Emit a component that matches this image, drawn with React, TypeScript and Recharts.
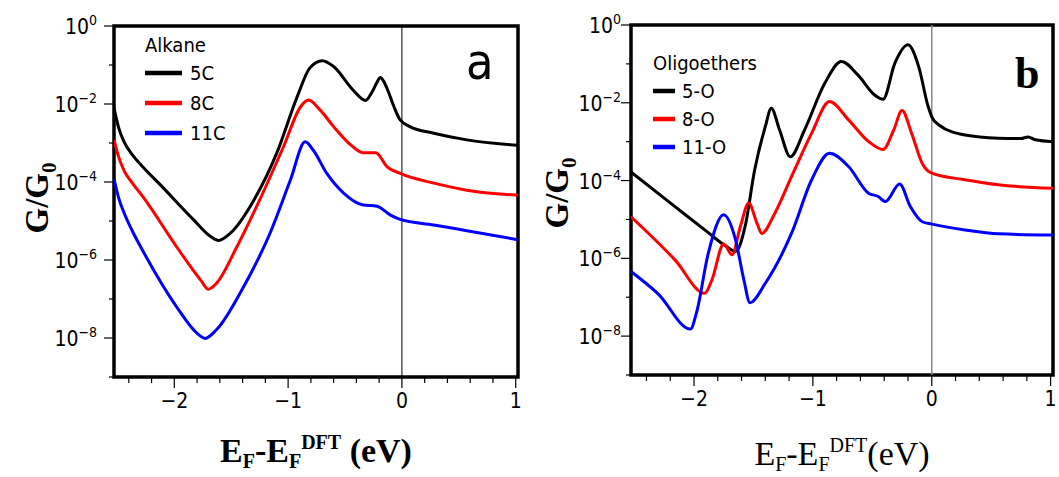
import React from "react";
import { LineChart, Line, XAxis, YAxis, ReferenceArea, ReferenceLine } from "recharts";

const SANS = '"DejaVu Sans Condensed", "DejaVu Sans", Verdana, sans-serif';
const SERIF = '"Liberation Serif", "Times New Roman", serif';

// axis ticks: labelled at integers / even decades, minor ones in between
const xTicks = [-2.4, -2.2, -2, -1.8, -1.6, -1.4, -1.2, -1, -0.8, -0.6, -0.4, -0.2, 0, 0.2, 0.4, 0.6, 0.8, 1];
const xMajor = [-2, -1, 0, 1];
const yTicks = [1, 1e-1, 1e-2, 1e-3, 1e-4, 1e-5, 1e-6, 1e-7, 1e-8, 1e-9];

// panel a – alkanes (x in eV, log10 G/G0)
const alk5X = [-2.53, -2.49, -2.44, -2.37, -2.28, -2.12, -1.83, -1.68, -1.61, -1.51, -1.3, -1.1, -0.92, -0.81, -0.7, -0.6, -0.43, -0.32, -0.26, -0.22, -0.19, -0.16, -0.12, -0.07, -0.015, 0.07, 0.28, 0.57, 1.02];
const alk5Log = [-2.1, -2.6, -2.98, -3.3, -3.6, -4.08, -4.97, -5.4, -5.5, -5.32, -4.46, -3.26, -1.81, -1.08, -0.89, -1.04, -1.64, -1.91, -1.68, -1.45, -1.32, -1.42, -1.68, -2.07, -2.41, -2.58, -2.75, -2.92, -3.06];
const alk8X = [-2.53, -2.49, -2.44, -2.37, -2.27, -1.98, -1.77, -1.7, -1.63, -1.45, -1.25, -1.04, -0.89, -0.82, -0.72, -0.6, -0.45, -0.34, -0.23, -0.13, -0.015, 0.28, 0.57, 1.02];
const alk8Log = [-2.92, -3.35, -3.72, -4.02, -4.4, -5.66, -6.51, -6.75, -6.6, -5.66, -4.46, -3.09, -2.07, -1.9, -2.15, -2.58, -3.05, -3.25, -3.25, -3.61, -3.78, -4.03, -4.21, -4.34];
const alk11X = [-2.53, -2.49, -2.44, -2.37, -2.27, -1.98, -1.8, -1.73, -1.63, -1.39, -1.16, -0.98, -0.85, -0.78, -0.66, -0.51, -0.34, -0.22, -0.1, -0.015, 0.28, 0.57, 1.02];
const alk11Log = [-3.92, -4.4, -4.8, -5.25, -5.8, -7.2, -7.88, -8.01, -7.79, -6.68, -5.32, -3.95, -2.97, -3.18, -3.78, -4.29, -4.59, -4.62, -4.85, -4.96, -5.1, -5.25, -5.48];

// panel b – oligoethers
const eth5X = [-2.53, -2.16, -1.88, -1.74, -1.65, -1.57, -1.49, -1.4, -1.35, -1.28, -1.19, -1.07, -0.9, -0.76, -0.62, -0.48, -0.41, -0.31, -0.2, -0.11, -0.03, 0, 0.06, 0.28, 0.56, 0.75, 0.81, 0.87, 1.02];
const eth5Log = [-3.78, -4.67, -5.34, -5.67, -5.82, -5.18, -3.73, -2.61, -2.14, -2.7, -3.39, -2.7, -1.5, -0.94, -1.29, -1.8, -1.91, -0.98, -0.51, -1.07, -2.1, -2.36, -2.57, -2.83, -2.91, -2.92, -2.88, -2.95, -3.0];
const eth8X = [-2.53, -2.16, -1.91, -1.85, -1.75, -1.68, -1.61, -1.54, -1.47, -1.43, -1.32, -1.18, -1.01, -0.86, -0.7, -0.53, -0.41, -0.32, -0.25, -0.17, -0.08, 0, 0.28, 0.56, 1.02];
const eth8Log = [-4.93, -6.04, -6.9, -6.56, -5.63, -5.91, -5.18, -4.58, -5.1, -5.36, -4.84, -3.9, -2.78, -1.97, -2.44, -3.0, -3.2, -2.7, -2.2, -2.78, -3.56, -3.81, -3.98, -4.11, -4.2];
const eth11X = [-2.53, -2.3, -2.03, -1.98, -1.88, -1.75, -1.65, -1.58, -1.53, -1.4, -1.18, -1.01, -0.86, -0.7, -0.53, -0.45, -0.39, -0.27, -0.18, -0.08, 0, 0.28, 0.56, 1.02];
const eth11Log = [-6.34, -6.92, -7.82, -7.41, -5.87, -4.88, -5.53, -6.56, -7.14, -6.64, -5.36, -3.98, -3.3, -3.64, -4.33, -4.41, -4.54, -4.09, -4.67, -5.06, -5.12, -5.27, -5.37, -5.4];

const rows = (xs: number[], logs: number[]) => xs.map((x, i) => ({ x, g: Math.pow(10, logs[i]) }));

const H = 477;

interface Series { name: string; color: string; data: { x: number; g: number }[] }

interface PanelProps {
  left: number;
  width: number;
  plotLeft: number;
  plotRight: number;
  plotTop: number;
  plotBottom: number;
  series: Series[];
  zeroColor: string;
  zeroWidth: number;
  labelGap: number;
  overlay: React.ReactNode;
}

function Panel(p: PanelProps) {
  const yTick = (props: any) => {
    const v = props.payload.value;
    const e = Math.round(Math.log10(v));
    const major = e % 2 === 0;
    const y = props.y;
    return (
      <g>
        <line x1={p.plotLeft - (major ? 10 : 5)} x2={p.plotLeft} y1={y} y2={y} stroke="#000" strokeWidth={1.2} />
        {major && (
          <text x={p.plotLeft - p.labelGap} y={y + 8} textAnchor="end" fontFamily={SANS} fontSize={21} fill="#000">
            10<tspan dy={-9} fontSize={14}>{e === 0 ? "0" : "\u2212" + Math.abs(e)}</tspan>
          </text>
        )}
      </g>
    );
  };
  const xTick = (props: any) => {
    const v = props.payload.value;
    const major = xMajor.some((m) => Math.abs(m - v) < 1e-6);
    const x = props.x;
    const base = p.plotBottom;
    return (
      <g>
        <line x1={x} x2={x} y1={base} y2={base + (major ? 11 : 6)} stroke="#000" strokeWidth={1.2} />
        {major && (
          <text x={x} y={base + 31} textAnchor="middle" fontFamily={SANS} fontSize={21} fill="#000">
            {v < 0 ? "\u2212" + Math.abs(Math.round(v)) : String(Math.round(v))}
          </text>
        )}
      </g>
    );
  };
  return (
    <div style={{ position: "absolute", left: p.left, top: 0, width: p.width, height: H }}>
      <LineChart
        width={p.width}
        height={H}
        margin={{ top: p.plotTop, right: p.width - p.plotRight, left: 0, bottom: 0 }}
      >
        <XAxis
          type="number"
          dataKey="x"
          domain={[-2.53, 1.02]}
          ticks={xTicks}
          allowDataOverflow
          height={H - p.plotBottom}
          axisLine={false}
          tickLine={false}
          tickSize={0}
          tick={xTick}
          interval={0}
        />
        <YAxis
          scale="log"
          type="number"
          domain={[1e-9, 1]}
          ticks={yTicks}
          allowDataOverflow
          width={p.plotLeft}
          axisLine={false}
          tickLine={false}
          tickSize={0}
          tick={yTick}
          interval={0}
        />
        <ReferenceLine x={0} stroke={p.zeroColor} strokeWidth={p.zeroWidth} />
        {p.series.map((s) => (
          <Line
            key={s.name}
            data={s.data}
            dataKey="g"
            name={s.name}
            type="monotone"
            stroke={s.color}
            strokeWidth={3}
            dot={false}
            isAnimationActive={false}
          />
        ))}
        <ReferenceArea x1={-2.53} x2={1.02} y1={1e-9} y2={1} fill="none" stroke="#000" strokeWidth={3.5} ifOverflow="visible" />
      </LineChart>
      <svg width={p.width} height={H} style={{ position: "absolute", left: 0, top: 0, pointerEvents: "none" }}>
        {p.overlay}
      </svg>
    </div>
  );
}

const alkSeries: Series[] = [
  { name: "5C", color: "#000000", data: rows(alk5X, alk5Log) },
  { name: "8C", color: "#ff0000", data: rows(alk8X, alk8Log) },
  { name: "11C", color: "#0000ff", data: rows(alk11X, alk11Log) },
];
const ethSeries: Series[] = [
  { name: "5-O", color: "#000000", data: rows(eth5X, eth5Log) },
  { name: "8-O", color: "#ff0000", data: rows(eth8X, eth8Log) },
  { name: "11-O", color: "#0000ff", data: rows(eth11X, eth11Log) },
];

function LegendBlock({ title, series, x, y, lineLen, gap, step }: { title: string; series: Series[]; x: number; y: number; lineLen: number; gap: number; step: number }) {
  return (
    <g fontFamily={SANS} fontSize={20} fill="#000">
      <text x={x} y={y}>{title}</text>
      {series.map((s, i) => {
        const ly = y + 21 + i * step;
        return (
          <g key={s.name}>
            <line x1={x} x2={x + lineLen} y1={ly} y2={ly} stroke={s.color} strokeWidth={4.5} />
            <text x={x + lineLen + gap} y={ly + 7}>{s.name}</text>
          </g>
        );
      })}
    </g>
  );
}

export default function App() {
  const overlayA = (
    <>
      <LegendBlock title="Alkane" series={alkSeries} x={145} y={52} lineLen={37} gap={8} step={30} />
      <text x={466} y={79} fontFamily={SANS} fontSize={50} fill="#000">a</text>
      <text transform="translate(48,198) rotate(-90)" textAnchor="middle" fontFamily={SERIF} fontWeight="bold" fontSize={33} fill="#000">
        G/G<tspan dy={8} fontSize={21}>0</tspan>
      </text>
      <text x={316} y={462} textAnchor="middle" fontFamily={SERIF} fontWeight="bold" fontSize={34} fill="#000">
        E<tspan dy={6} fontSize={20}>F</tspan><tspan dy={-6}>-E</tspan><tspan dy={6} fontSize={20}>F</tspan>
        <tspan dy={-19} fontSize={20}>DFT</tspan><tspan dy={13}> (eV)</tspan>
      </text>
    </>
  );
  const overlayB = (
    <>
      <LegendBlock title="Oligoethers" series={ethSeries} x={123} y={70} lineLen={22} gap={7} step={28} />
      <text x={485} y={88} fontFamily={SERIF} fontWeight="bold" fontSize={44} fill="#000">b</text>
      <text transform="translate(38,193) rotate(-90)" textAnchor="middle" fontFamily={SERIF} fontWeight="bold" fontSize={33} fill="#000">
        G/G<tspan dy={8} fontSize={21}>0</tspan>
      </text>
      <text x={312} y={465} textAnchor="middle" fontFamily={SERIF} fontSize={34} fill="#000">
        E<tspan dy={6} fontSize={20}>F</tspan><tspan dy={-6}>-E</tspan><tspan dy={6} fontSize={20}>F</tspan>
        <tspan dy={-19} fontSize={20}>DFT</tspan><tspan dy={13}>(eV)</tspan>
      </text>
    </>
  );
  return (
    <div style={{ position: "absolute", left: 0, top: 0, width: 1059, height: H, background: "#fff" }}>
      <Panel
        left={0}
        width={530}
        plotLeft={114}
        plotRight={518}
        plotTop={26}
        plotBottom={377}
        series={alkSeries}
        zeroColor="#000"
        zeroWidth={1}
        labelGap={17}
        overlay={overlayA}
      />
      <Panel
        left={530}
        width={529}
        plotLeft={101}
        plotRight={523}
        plotTop={25}
        plotBottom={375}
        series={ethSeries}
        zeroColor="#888"
        zeroWidth={1.5}
        labelGap={10}
        overlay={overlayB}
      />
    </div>
  );
}
